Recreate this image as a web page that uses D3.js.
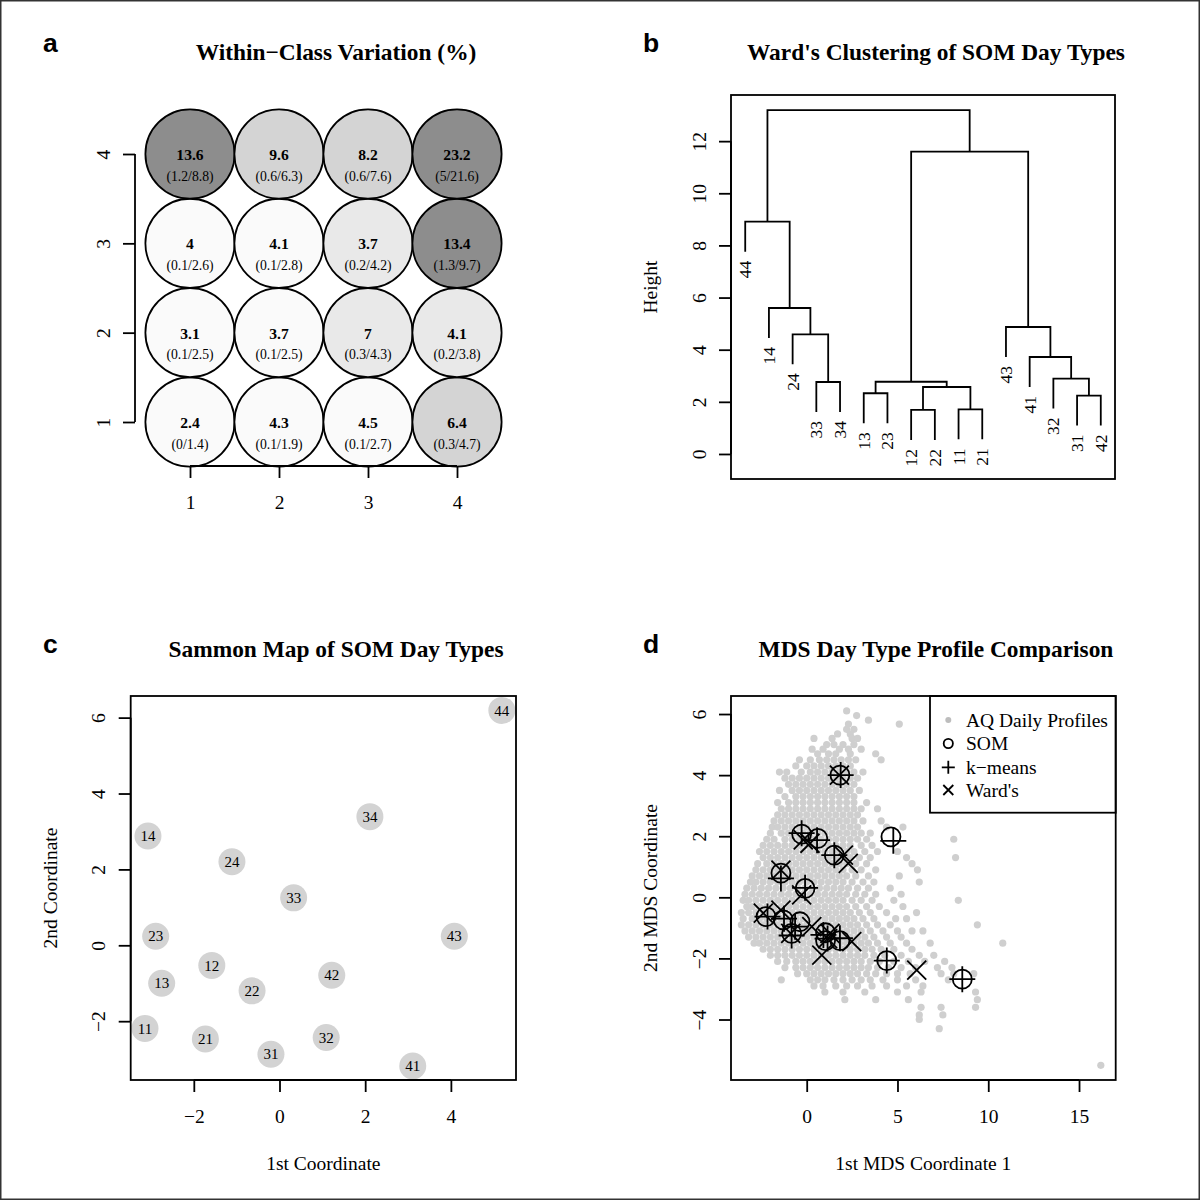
<!DOCTYPE html>
<html><head><meta charset="utf-8">
<script src="https://cdn.jsdelivr.net/npm/d3@7"></script>
<style>html,body{margin:0;padding:0;background:#fff}</style>
</head><body><script>
// ---------------- DATA ----------------
// Panel a: within-class variation (rows: y = 1..4, cols: x = 1..4)
const gridCols = [1, 2, 3, 4];
const gridRows = [1, 2, 3, 4];
const wcvValues = [
  ["2.4", "4.3", "4.5", "6.4"],
  ["3.1", "3.7", "7", "4.1"],
  ["4", "4.1", "3.7", "13.4"],
  ["13.6", "9.6", "8.2", "23.2"]
];
const wcvMin = [
  [0, 0.1, 0.1, 0.3],
  [0.1, 0.1, 0.3, 0.2],
  [0.1, 0.1, 0.2, 1.3],
  [1.2, 0.6, 0.6, 5]
];
const wcvMax = [
  [1.4, 1.9, 2.7, 4.7],
  [2.5, 2.5, 4.3, 3.8],
  [2.6, 2.8, 4.2, 9.7],
  [8.8, 6.3, 7.6, 21.6]
];

// Panel b: Ward's dendrogram
const leafOrder = ["44","14","24","33","34","13","23","12","22","11","21","43","41","32","31","42"];
// merges: [childA, childB, height]; strings = leaf labels, numbers = earlier merge index (1-based)
const merges = [
  ["12", "22", 1.69],
  ["11", "21", 1.71],
  ["31", "42", 2.24],
  ["13", "23", 2.33],
  [1, 2, 2.57],
  ["33", "34", 2.76],
  [4, 5, 2.77],
  ["32", 3, 2.89],
  ["41", 8, 3.72],
  ["24", 6, 4.59],
  ["43", 9, 4.87],
  ["14", 10, 5.60],
  ["44", 12, 8.91],
  [7, 11, 11.60],
  [13, 14, 13.19]
];
const dendroTicks = [0, 2, 4, 6, 8, 10, 12];

// Panel c: Sammon map
const sammonLabels = ["11","12","13","14","21","22","23","24","31","32","33","34","41","42","43","44"];
const sammonX = [-3.14, -1.58, -2.75, -3.07, -1.73, -0.64, -2.89, -1.11, -0.20, 1.09, 0.33, 2.11, 3.11, 1.22, 4.08, 5.19];
const sammonY = [-2.19, -0.53, -1.00, 2.88, -2.47, -1.20, 0.24, 2.20, -2.87, -2.43, 1.25, 3.39, -3.18, -0.79, 0.24, 6.19];
const sammonXTicks = [-2, 0, 2, 4];
const sammonYTicks = [-2, 0, 2, 4, 6];

// Panel d: MDS comparison
const somX = [1.83, -0.28, 0.61, 4.64, 1.52, -1.42, -0.09, -2.24, -1.29, -0.37, -0.83, 1.04, 1.04, 1.83, 4.41, 8.57];
const somY = [4.00, 2.07, 1.93, 1.98, 1.38, 0.79, 0.29, -0.63, -0.74, -0.80, -1.18, -1.16, -1.42, -1.42, -2.07, -2.68];
const kmX = [1.87, -0.28, 0.57, 4.77, 1.52, -1.42, -0.09, -2.16, -1.25, -0.64, -0.83, 0.92, 1.83, 1.15, 4.41, 8.57];
const kmY = [4.00, 2.10, 1.87, 1.85, 1.38, 0.62, 0.31, -0.63, -0.70, -0.96, -1.25, -1.23, -1.34, -1.35, -2.07, -2.68];
const wardX = [1.80, -0.19, 0.18, 2.02, 2.29, -1.42, -0.28, -2.39, -1.42, -0.88, 0.28, 0.83, 2.48, 1.28, 1.15, 6.06];
const wardY = [4.00, 1.88, 1.77, 1.38, 1.11, 0.89, 0.08, -0.52, -0.42, -1.18, -0.96, -1.89, -1.45, -1.18, -1.35, -2.38];
// AQ daily profiles (gray cloud), read row by row: [y, [x values]]
const aqRows = [
  [6.1, [2.2]],
  [5.95, [2.75]],
  [5.8, [3.4]],
  [5.67, [5.1, 2.3]],
  [5.5, [2.2, 2.6]],
  [5.35, [1.7, 2.4]],
  [5.2, [0.4, 1.4, 2.5, 2.8]],
  [5.0, [1.1, 1.5, 2.0, 2.6]],
  [4.85, [0.3, 0.9, 1.8, 2.3, 3.0]],
  [4.7, [0.6, 1.2, 1.6, 2.4, 3.8]],
  [4.5, [-0.4, 0.2, 0.7, 1.1, 1.5, 1.9, 2.3, 2.7, 4.1]],
  [4.3, [-0.6, 0.0, 0.4, 0.8, 1.2, 1.6, 2.0, 2.4]],
  [4.1, [-1.5, -1.1, -0.3, 0.2, 0.6, 1.0, 1.4, 1.8, 2.2, 2.6, 3.1]],
  [3.9, [-1.2, -0.8, -0.4, 0.0, 0.4, 0.8, 1.2, 1.6, 2.0, 2.4, 2.8]],
  [3.7, [-1.0, -0.6, -0.2, 0.2, 0.6, 1.0, 1.4, 1.8, 2.2, 2.6]],
  [3.5, [-1.5, -0.8, -0.4, 0.0, 0.4, 0.8, 1.2, 1.6, 2.0, 2.4, 2.9]],
  [3.3, [-1.2, -0.6, -0.2, 0.2, 0.6, 1.0, 1.4, 1.8, 2.2, 2.6]],
  [3.1, [-1.6, -1.0, -0.6, -0.2, 0.2, 0.6, 1.0, 1.4, 1.8, 2.2, 2.6, 3.3]],
  [2.9, [-1.4, -1.0, -0.6, -0.2, 0.2, 0.6, 1.0, 1.4, 1.8, 2.2, 2.6, 3.0, 3.9]],
  [2.7, [-1.6, -1.2, -0.8, -0.4, 0.0, 0.4, 0.8, 1.2, 1.6, 2.0, 2.4, 2.8]],
  [2.5, [-1.8, -1.4, -1.0, -0.6, -0.2, 0.2, 0.6, 1.0, 1.4, 1.8, 2.2, 2.6, 3.1, 4.1]],
  [2.3, [-1.9, -1.6, -1.2, -0.8, -0.4, 0.0, 0.4, 0.8, 1.2, 1.6, 2.0, 2.4, 2.8, 4.4, 5.3]],
  [2.1, [-2.0, -1.4, -1.0, -0.6, -0.2, 0.2, 0.6, 1.0, 1.4, 1.8, 2.2, 2.6, 3.0, 3.5]],
  [1.9, [-2.2, -1.8, -1.2, -0.8, -0.4, 0.0, 0.4, 0.8, 1.2, 1.6, 2.0, 2.4, 2.8, 3.3, 8.1]],
  [1.7, [-2.4, -2.0, -1.6, -1.2, -0.8, -0.4, 0.0, 0.4, 0.8, 1.2, 1.6, 2.0, 2.4, 3.0, 3.6]],
  [1.5, [-2.6, -2.2, -1.8, -1.4, -1.0, -0.6, -0.2, 0.2, 0.6, 1.0, 1.4, 1.8, 2.2, 2.6, 3.2, 3.9, 5.0]],
  [1.3, [-2.4, -2.0, -1.6, -1.2, -0.8, -0.4, 0.0, 0.4, 0.8, 1.2, 1.6, 2.0, 2.4, 2.9, 3.5, 5.5, 8.2]],
  [1.1, [-2.7, -2.2, -1.8, -1.4, -1.0, -0.6, -0.2, 0.2, 0.6, 1.0, 1.4, 1.8, 2.2, 2.7, 3.3, 5.8]],
  [0.9, [-2.8, -2.4, -2.0, -1.6, -1.2, -0.8, -0.4, 0.0, 0.4, 0.8, 1.2, 1.6, 2.0, 2.5, 3.0, 3.8, 6.1]],
  [0.7, [-3.0, -2.6, -2.2, -1.8, -1.4, -1.0, -0.6, -0.2, 0.2, 0.6, 1.0, 1.4, 1.8, 2.2, 2.7, 3.4, 5.1]],
  [0.5, [-3.1, -2.8, -2.4, -2.0, -1.6, -1.2, -0.8, -0.4, 0.0, 0.4, 0.8, 1.2, 1.6, 2.0, 2.5, 3.1, 3.7, 6.2]],
  [0.3, [-3.3, -2.9, -2.5, -2.1, -1.7, -1.3, -0.9, -0.5, -0.1, 0.3, 0.7, 1.1, 1.5, 1.9, 2.3, 2.8, 3.4, 4.6]],
  [0.1, [-3.4, -3.0, -2.6, -2.2, -1.8, -1.4, -1.0, -0.6, -0.2, 0.2, 0.6, 1.0, 1.4, 1.8, 2.2, 2.7, 3.2, 3.8, 5.2]],
  [-0.1, [-3.5, -3.2, -2.8, -2.4, -2.0, -1.6, -1.2, -0.8, -0.4, 0.0, 0.4, 0.8, 1.2, 1.6, 2.0, 2.5, 3.0, 3.6, 4.8, 8.35]],
  [-0.3, [-3.3, -3.0, -2.6, -2.2, -1.8, -1.4, -1.0, -0.6, -0.2, 0.2, 0.6, 1.0, 1.4, 1.8, 2.2, 2.7, 3.3, 4.0, 5.3]],
  [-0.5, [-3.6, -3.2, -2.8, -2.4, -2.0, -1.6, -1.2, -0.8, -0.4, 0.0, 0.4, 0.8, 1.2, 1.6, 2.0, 2.4, 2.9, 3.5, 4.4, 6.05]],
  [-0.7, [-3.5, -3.0, -2.6, -2.2, -1.8, -1.4, -1.0, -0.6, -0.2, 0.2, 0.6, 1.0, 1.4, 1.8, 2.2, 2.6, 3.1, 3.7, 4.9, 5.5]],
  [-0.9, [-3.6, -3.2, -2.8, -2.4, -2.0, -1.6, -1.2, -0.8, -0.4, 0.0, 0.4, 0.8, 1.2, 1.6, 2.0, 2.4, 2.8, 3.3, 3.9, 4.6, 9.4]],
  [-1.1, [-3.4, -3.0, -2.6, -2.2, -1.8, -1.4, -1.0, -0.6, -0.2, 0.2, 0.6, 1.0, 1.4, 1.8, 2.2, 2.6, 3.0, 3.5, 4.2, 5.0, 5.8, 6.4]],
  [-1.3, [-3.2, -2.8, -2.4, -2.0, -1.6, -1.2, -0.8, -0.4, 0.0, 0.4, 0.8, 1.2, 1.6, 2.0, 2.4, 2.8, 3.2, 3.7, 4.4, 5.2]],
  [-1.5, [-2.9, -2.6, -2.2, -1.8, -1.4, -1.0, -0.6, -0.2, 0.2, 0.6, 1.0, 1.4, 1.8, 2.2, 2.6, 3.0, 3.4, 3.9, 4.6, 5.5, 6.8, 10.8]],
  [-1.7, [-2.4, -2.0, -1.6, -1.2, -0.8, -0.4, 0.0, 0.4, 0.8, 1.2, 1.6, 2.0, 2.4, 2.8, 3.2, 3.6, 4.1, 4.8, 5.8]],
  [-1.9, [-2.0, -1.6, -1.2, -0.8, -0.4, 0.0, 0.4, 0.8, 1.2, 1.6, 2.0, 2.4, 2.8, 3.2, 3.7, 4.3, 5.2, 6.2, 7.0]],
  [-2.1, [-1.6, -1.1, -0.6, -0.2, 0.2, 0.6, 1.0, 1.4, 1.8, 2.2, 2.6, 3.0, 3.5, 4.0, 4.8, 5.6, 6.5, 7.6]],
  [-2.3, [-1.2, -0.6, -0.2, 0.2, 0.6, 1.0, 1.4, 1.8, 2.2, 2.6, 3.0, 3.4, 3.9, 4.5, 5.2, 6.0, 7.2, 8.0]],
  [-2.5, [-0.5, 0.0, 0.4, 0.8, 1.2, 1.6, 2.0, 2.4, 2.8, 3.3, 3.8, 4.4, 5.0, 5.7, 7.4, 8.1, 9.2]],
  [-2.7, [-1.4, 0.2, 0.6, 1.0, 1.5, 2.0, 2.5, 3.0, 3.5, 4.2, 5.0, 6.0, 7.8]],
  [-2.9, [0.4, 0.9, 1.6, 2.2, 2.8, 3.6, 4.4, 5.5, 6.4]],
  [-3.1, [1.0, 2.0, 3.2, 5.0, 6.3, 9.3]],
  [-3.35, [2.1, 3.8, 5.6, 9.4]],
  [-3.6, [6.3, 7.4, 9.3]],
  [-3.85, [6.2, 7.5]],
  [-4.0, [6.2]],
  [-4.3, [7.3]],
  [-5.5, [16.2]]
];
const mdsXTicks = [0, 5, 10, 15];
const mdsYTicks = [-4, -2, 0, 2, 4, 6];
const legendLabels = ["AQ Daily Profiles", "SOM", "k\u2212means", "Ward's"];

// ---------------- RENDER ----------------
const SERIF = "'Liberation Serif','Times New Roman',Times,serif";
const SANS = "'Liberation Sans',Arial,Helvetica,sans-serif";
const FS = 19.5;
const LW = 1.8;
const fmt = v => (v < 0 ? "\u2212" + Math.abs(v) : String(v));

const svg = d3.select("body").append("svg")
  .attr("width", 1200).attr("height", 1200).style("display", "block");
svg.append("rect").attr("width", 1200).attr("height", 1200).attr("fill", "#fff");
svg.append("rect").attr("x", 0.75).attr("y", 0.75).attr("width", 1198.5).attr("height", 1198.5)
  .attr("fill", "none").attr("stroke", "#333").attr("stroke-width", 1.5);

function txt(g, x, y, s, o = {}) {
  const t = g.append("text").attr("x", x).attr("y", y).text(s)
    .attr("font-family", o.family || SERIF).attr("font-size", o.size || FS)
    .attr("font-weight", o.weight || "normal").attr("fill", "#000")
    .attr("text-anchor", o.anchor || "middle");
  if (o.transform) t.attr("transform", o.transform);
  return t;
}

function bottomAxis(g, scale, ticks, y0) {
  const ax = g.append("g").attr("transform", `translate(0,${y0})`)
    .call(d3.axisBottom(scale).tickValues(ticks).tickSize(12).tickFormat(fmt));
  ax.select(".domain").remove();
  ax.append("line").attr("x1", scale(ticks[0])).attr("x2", scale(ticks[ticks.length - 1]))
    .attr("stroke", "#000").attr("stroke-width", LW);
  ax.selectAll(".tick line").attr("stroke", "#000").attr("stroke-width", LW);
  ax.selectAll(".tick text").attr("y", 43).attr("dy", null)
    .attr("font-family", SERIF).attr("font-size", FS).attr("fill", "#000");
  ax.attr("font-family", null).attr("font-size", null);
  return ax;
}
function leftAxis(g, scale, ticks, x0) {
  const ax = g.append("g").attr("transform", `translate(${x0},0)`)
    .call(d3.axisLeft(scale).tickValues(ticks).tickSize(12).tickFormat(fmt));
  ax.select(".domain").remove();
  ax.append("line").attr("y1", scale(ticks[0])).attr("y2", scale(ticks[ticks.length - 1]))
    .attr("stroke", "#000").attr("stroke-width", LW);
  ax.selectAll(".tick line").attr("stroke", "#000").attr("stroke-width", LW);
  ax.selectAll(".tick text").attr("x", 0).attr("y", -25.5).attr("dy", null)
    .attr("transform", "rotate(-90)").attr("text-anchor", "middle")
    .attr("font-family", SERIF).attr("font-size", FS).attr("fill", "#000");
  ax.attr("font-family", null).attr("font-size", null);
  return ax;
}
function box(g, x0, y0, x1, y1) {
  g.append("rect").attr("x", x0).attr("y", y0).attr("width", x1 - x0).attr("height", y1 - y0)
    .attr("fill", "none").attr("stroke", "#000").attr("stroke-width", LW);
}

// ---- Panel a ----
{
  const g = svg.append("g");
  txt(g, 43, 51.7, "a", { family: SANS, size: 26.5, weight: "bold", anchor: "start" });
  txt(g, 336, 59.5, "Within\u2212Class Variation (%)", { size: 23.4, weight: "bold" });
  const x = d3.scaleLinear().domain([1, 4]).range([190, 457]);
  const y = d3.scaleLinear().domain([1, 4]).range([422, 154]);
  const shade = d3.scaleThreshold().domain([3, 4.5, 8]).range(["#fafafa", "#e9e9e9", "#d4d4d4", "#8d8d8d"]);
  const cells = [];
  gridRows.forEach((r, ri) => gridCols.forEach((c, ci) => cells.push({
    c, r, v: wcvValues[ri][ci], lo: wcvMin[ri][ci], hi: wcvMax[ri][ci]
  })));
  const cg = g.selectAll("g.cell").data(cells).join("g").attr("class", "cell")
    .attr("transform", d => `translate(${x(d.c)},${y(d.r)})`);
  cg.append("circle").attr("r", 44.6).attr("fill", d => shade(d.hi))
    .attr("stroke", "#000").attr("stroke-width", LW);
  cg.append("text").attr("y", 6).attr("text-anchor", "middle").attr("font-family", SERIF)
    .attr("font-weight", "bold").attr("font-size", 15.6).text(d => d.v);
  cg.append("text").attr("y", 26.5).attr("text-anchor", "middle").attr("font-family", SERIF)
    .attr("font-size", 13.7).text(d => `(${d.lo}/${d.hi})`);
  bottomAxis(g, x, gridCols, 466);
  leftAxis(g, y, gridRows, 135);
}

// ---- Panel b ----
{
  const g = svg.append("g");
  txt(g, 643, 51.7, "b", { family: SANS, size: 26.5, weight: "bold", anchor: "start" });
  txt(g, 936, 59.5, "Ward's Clustering of SOM Day Types", { size: 23.4, weight: "bold" });
  const L = 731, R = 1115, T = 95, B = 479;
  const n = leafOrder.length;
  const pad = (n - 1) * 0.04;
  const x = d3.scaleLinear().domain([1 - pad, n + pad]).range([L, R]);
  const y = d3.scaleLinear().domain([-0.96, 13.77]).range([B, T]);
  const hs = merges.map(m => m[2]);
  const hang = 0.1 * (d3.max(hs) - d3.min(hs));
  const nodeX = [];
  const posOf = ref => typeof ref === "string" ? leafOrder.indexOf(ref) + 1 : nodeX[ref - 1];
  const leafEnds = [];
  merges.forEach((m, i) => {
    const [a, b, h] = m;
    const xa = posOf(a), xb = posOf(b);
    const topA = typeof a === "string" ? h - hang : merges[a - 1][2];
    const topB = typeof b === "string" ? h - hang : merges[b - 1][2];
    if (typeof a === "string") leafEnds.push({ lab: a, x: xa, h: topA });
    if (typeof b === "string") leafEnds.push({ lab: b, x: xb, h: topB });
    nodeX.push((xa + xb) / 2);
    g.append("path")
      .attr("d", `M${x(xa)},${y(topA)}V${y(h)}H${x(xb)}V${y(topB)}`)
      .attr("fill", "none").attr("stroke", "#000").attr("stroke-width", LW);
  });
  g.selectAll("text.leaf").data(leafEnds).join("text").attr("class", "leaf")
    .attr("transform", d => `translate(${x(d.x)},${y(d.h) + 9}) rotate(-90)`)
    .attr("x", 0).attr("y", 6).attr("text-anchor", "end")
    .attr("font-family", SERIF).attr("font-size", 17.5).text(d => d.lab);
  box(g, L, T, R, B);
  leftAxis(g, y, dendroTicks, L);
  txt(g, 0, 0, "Height", { transform: `translate(${L - 74},${(T + B) / 2}) rotate(-90)` });
}

// ---- Panel c ----
{
  const g = svg.append("g");
  txt(g, 43, 653.3, "c", { family: SANS, size: 26.5, weight: "bold", anchor: "start" });
  txt(g, 336, 657, "Sammon Map of SOM Day Types", { size: 23.4, weight: "bold" });
  const L = 130.7, R = 516, T = 696, B = 1080;
  const x = d3.scaleLinear().domain([-3.473, 5.52]).range([L, R]);
  const y = d3.scaleLinear().domain([-3.55, 6.57]).range([B, T]);
  const pts = sammonLabels.map((l, i) => ({ l, x: sammonX[i], y: sammonY[i] }));
  g.selectAll("circle.s").data(pts).join("circle").attr("class", "s")
    .attr("cx", d => x(d.x)).attr("cy", d => y(d.y)).attr("r", 13.5).attr("fill", "#d3d3d3");
  g.selectAll("text.s").data(pts).join("text").attr("class", "s")
    .attr("x", d => x(d.x)).attr("y", d => y(d.y) + 5.2).attr("text-anchor", "middle")
    .attr("font-family", SERIF).attr("font-size", 15).text(d => d.l);
  box(g, L, T, R, B);
  bottomAxis(g, x, sammonXTicks, B);
  leftAxis(g, y, sammonYTicks, L);
  txt(g, (L + R) / 2, B + 90, "1st Coordinate");
  txt(g, 0, 0, "2nd Coordinate", { transform: `translate(${L - 74},${(T + B) / 2}) rotate(-90)` });
}

// ---- Panel d ----
{
  const g = svg.append("g");
  txt(g, 643, 653.3, "d", { family: SANS, size: 26.5, weight: "bold", anchor: "start" });
  txt(g, 936, 657, "MDS Day Type Profile Comparison", { size: 23.4, weight: "bold" });
  const L = 731, R = 1115.7, T = 696, B = 1080;
  const x = d3.scaleLinear().domain([-4.17, 17.02]).range([L, R]);
  const y = d3.scaleLinear().domain([-5.98, 6.59]).range([B, T]);
  const cloud = [];
  aqRows.forEach(([yy, xs]) => xs.forEach(xx => cloud.push({ x: xx, y: yy })));
  g.append("g").selectAll("circle").data(cloud).join("circle")
    .attr("cx", d => x(d.x)).attr("cy", d => y(d.y)).attr("r", 3.6).attr("fill", "#cfcfcf");
  const mk = (xs, ys) => xs.map((v, i) => ({ x: v, y: ys[i] }));
  const stroke = sel => sel.attr("fill", "none").attr("stroke", "#000").attr("stroke-width", LW);
  g.append("g").selectAll("circle").data(mk(somX, somY)).join("circle")
    .attr("cx", d => x(d.x)).attr("cy", d => y(d.y)).attr("r", 9.5).call(stroke);
  g.append("g").selectAll("path").data(mk(kmX, kmY)).join("path")
    .attr("transform", d => `translate(${x(d.x)},${y(d.y)})`)
    .attr("d", "M-13,0H13M0,-13V13").call(stroke);
  g.append("g").selectAll("path").data(mk(wardX, wardY)).join("path")
    .attr("transform", d => `translate(${x(d.x)},${y(d.y)})`)
    .attr("d", "M-9.5,-9.5L9.5,9.5M-9.5,9.5L9.5,-9.5").call(stroke);
  // legend
  const lg = g.append("g");
  lg.append("rect").attr("x", 930).attr("y", T).attr("width", R - 930).attr("height", 116.7)
    .attr("fill", "#fff").attr("stroke", "#000").attr("stroke-width", LW);
  const ly = [720, 743.5, 767.3, 790];
  const sx = 948.3;
  lg.append("circle").attr("cx", sx).attr("cy", ly[0]).attr("r", 3).attr("fill", "#bdbdbd");
  lg.append("circle").attr("cx", sx).attr("cy", ly[1]).attr("r", 4.6).call(stroke);
  lg.append("path").attr("transform", `translate(${sx},${ly[2]})`).attr("d", "M-6.5,0H6.5M0,-6.5V6.5").call(stroke);
  lg.append("path").attr("transform", `translate(${sx},${ly[3]})`).attr("d", "M-5,-5L5,5M-5,5L5,-5").call(stroke);
  legendLabels.forEach((s, i) => txt(lg, 966, ly[i] + 6.5, s, { anchor: "start" }));
  box(g, L, T, R, B);
  bottomAxis(g, x, mdsXTicks, B);
  leftAxis(g, y, mdsYTicks, L);
  txt(g, (L + R) / 2, B + 90, "1st MDS Coordinate 1");
  txt(g, 0, 0, "2nd MDS Coordinate", { transform: `translate(${L - 74},${(T + B) / 2}) rotate(-90)` });
}
</script></body></html>
